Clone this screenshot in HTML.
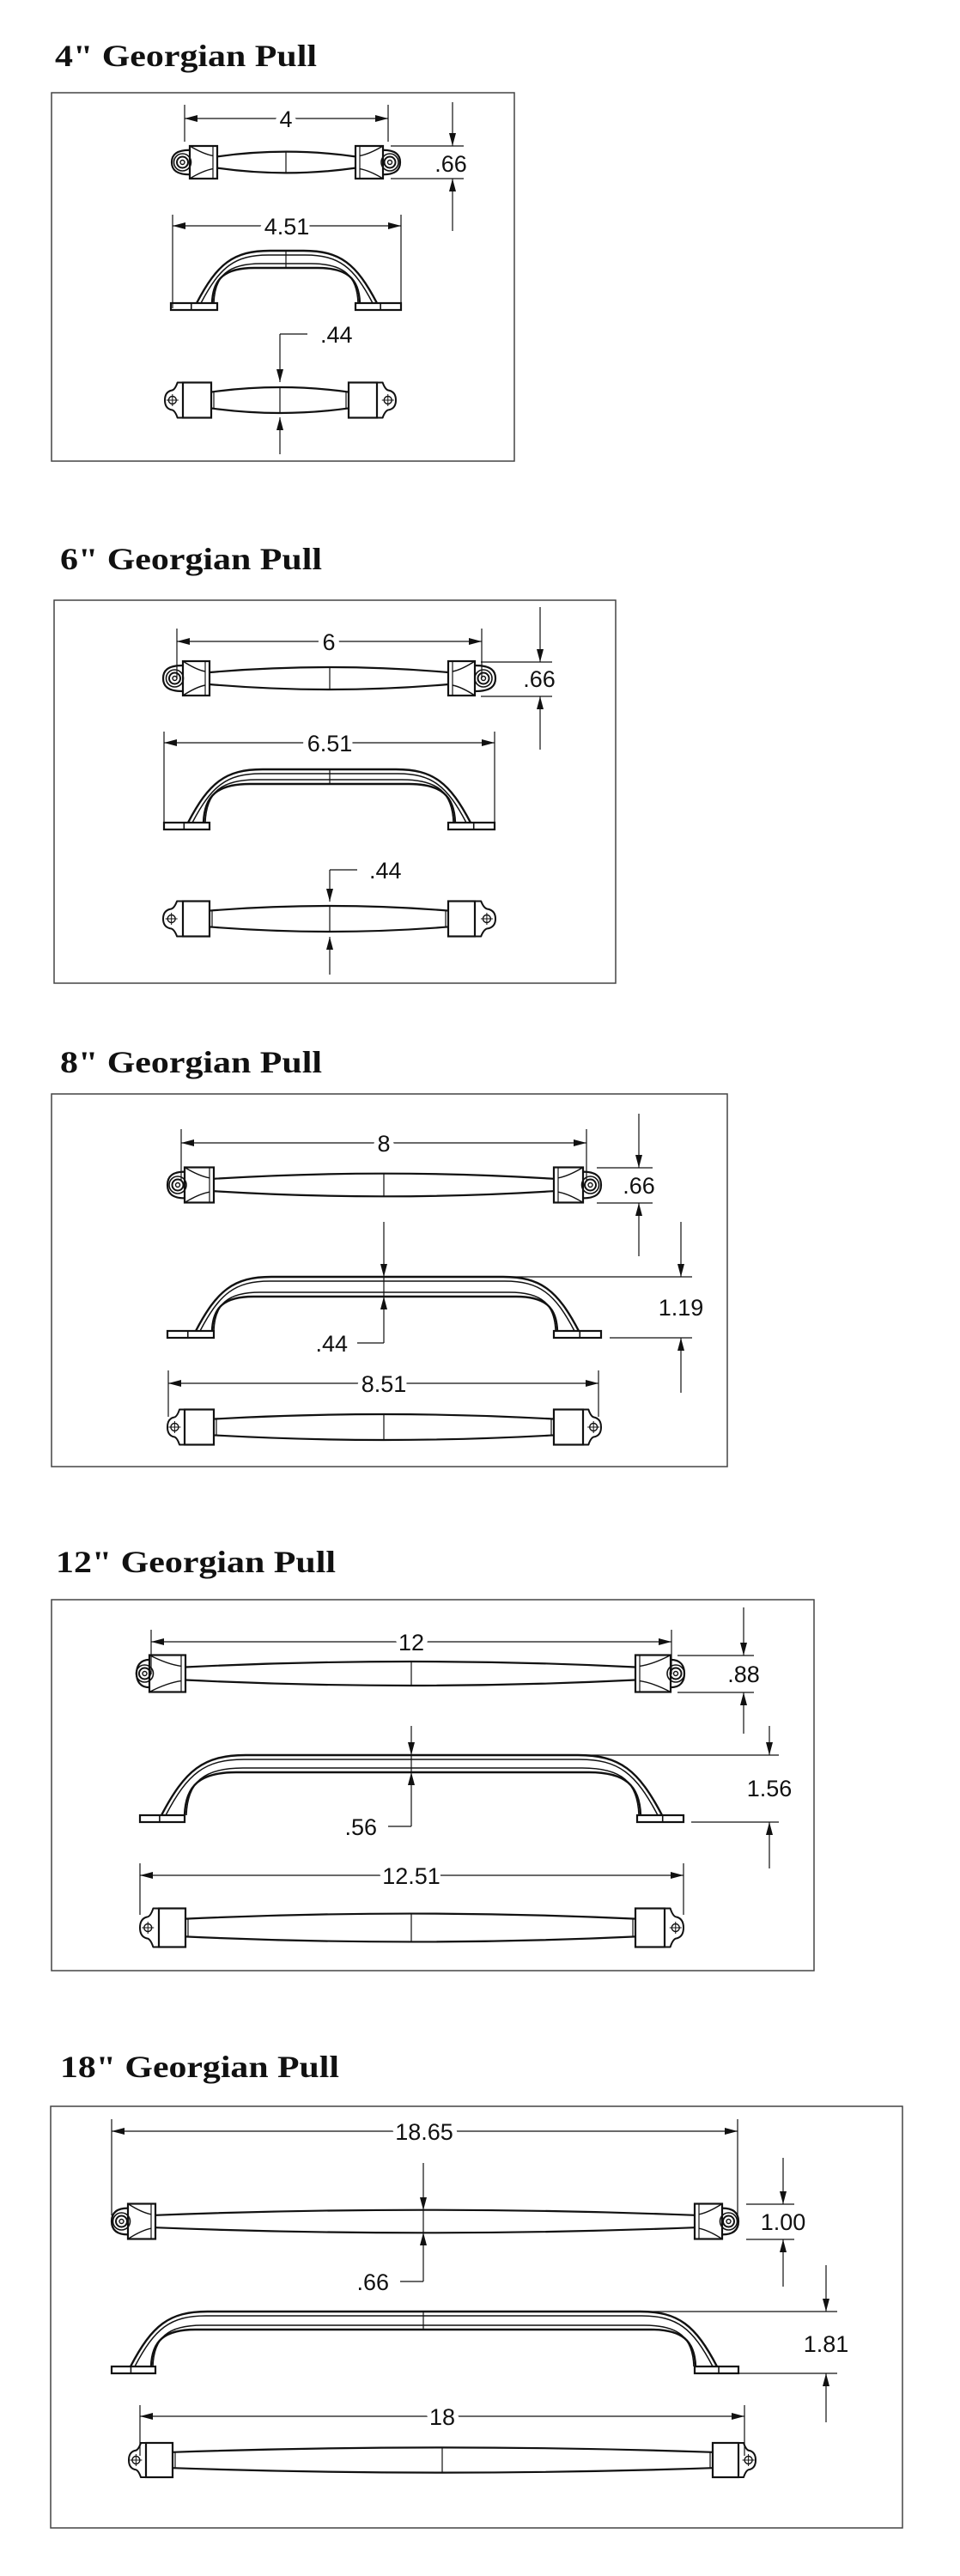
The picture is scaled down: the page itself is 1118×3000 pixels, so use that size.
<!DOCTYPE html>
<html><head><meta charset="utf-8"><style>
html,body{margin:0;padding:0;background:#fff;}
svg{display:block}
.t{font-family:"Liberation Serif",serif;font-weight:bold;font-size:36px;fill:#111}
.d{font-family:"Liberation Sans",sans-serif;font-size:27px;fill:#111;paint-order:stroke;stroke:#fff;stroke-width:12px;stroke-linejoin:round}
</style></head><body>
<svg id="s" width="1118" height="3000" viewBox="0 0 1118 3000" xmlns="http://www.w3.org/2000/svg">
<rect width="1118" height="3000" fill="#fff"/>
<g fill="none" stroke="#444" stroke-width="1.5">
<rect x="60" y="108" width="539" height="429"/>
<rect x="63" y="699" width="654" height="446"/>
<rect x="60" y="1274" width="787" height="434"/>
<rect x="60" y="1863" width="888" height="432"/>
<rect x="59" y="2453" width="992" height="491"/>
</g>
<g id="g"></g>
<text class="t" x="64" y="77" textLength="305" lengthAdjust="spacingAndGlyphs">4" Georgian Pull</text>
<text class="t" x="70" y="663" textLength="305" lengthAdjust="spacingAndGlyphs">6" Georgian Pull</text>
<text class="t" x="70" y="1249" textLength="305" lengthAdjust="spacingAndGlyphs">8" Georgian Pull</text>
<text class="t" x="65" y="1831" textLength="326" lengthAdjust="spacingAndGlyphs">12" Georgian Pull</text>
<text class="t" x="70" y="2419" textLength="325" lengthAdjust="spacingAndGlyphs">18" Georgian Pull</text>

<text class="d" x="333" y="148" text-anchor="middle">4</text>
<text class="d" x="525" y="200" text-anchor="middle">.66</text>
<text class="d" x="334" y="273" text-anchor="middle">4.51</text>
<text class="d" x="373" y="399">.44</text>

<text class="d" x="383" y="757" text-anchor="middle">6</text>
<text class="d" x="628" y="800" text-anchor="middle">.66</text>
<text class="d" x="384" y="875" text-anchor="middle">6.51</text>
<text class="d" x="430" y="1023">.44</text>

<text class="d" x="447" y="1341" text-anchor="middle">8</text>
<text class="d" x="744" y="1390" text-anchor="middle">.66</text>
<text class="d" x="405" y="1574" text-anchor="end">.44</text>
<text class="d" x="793" y="1532" text-anchor="middle">1.19</text>
<text class="d" x="447" y="1621" text-anchor="middle">8.51</text>

<text class="d" x="479" y="1922" text-anchor="middle">12</text>
<text class="d" x="866" y="1959" text-anchor="middle">.88</text>
<text class="d" x="439" y="2137" text-anchor="end">.56</text>
<text class="d" x="896" y="2092" text-anchor="middle">1.56</text>
<text class="d" x="479" y="2194" text-anchor="middle">12.51</text>

<text class="d" x="494" y="2492" text-anchor="middle">18.65</text>
<text class="d" x="453" y="2667" text-anchor="end">.66</text>
<text class="d" x="912" y="2597" text-anchor="middle">1.00</text>
<text class="d" x="962" y="2739" text-anchor="middle">1.81</text>
<text class="d" x="515" y="2824" text-anchor="middle">18</text>
</svg>
<script>
(function(){
var ns="http://www.w3.org/2000/svg",G=document.getElementById('g');
function el(t,a){var e=document.createElementNS(ns,t);for(var k in a)e.setAttribute(k,a[k]);G.appendChild(e);return e;}
function L(x1,y1,x2,y2,w){el('line',{x1:x1,y1:y1,x2:x2,y2:y2,stroke:'#111','stroke-width':w||1.2});}
function P(d,w){el('path',{d:d,fill:'none',stroke:'#111','stroke-width':w||2.2,'stroke-linejoin':'round'});}
function R(x,y,w,h){el('rect',{x:x,y:y,width:w,height:h,fill:'none',stroke:'#111','stroke-width':2.2});}
function C(x,y,r,w){el('circle',{cx:x,cy:y,r:r,fill:'none',stroke:'#111','stroke-width':w||1.6});}
function tri(x,y,dx,dy){var l=15,hw=4;var bx=x-dx*l,by=y-dy*l;
 el('polygon',{points:x+','+y+' '+(bx-dy*hw)+','+(by+dx*hw)+' '+(bx+dy*hw)+','+(by-dx*hw),fill:'#111'});}
function dimH(x1,x2,y){L(x1,y,x2,y);tri(x1,y,-1,0);tri(x2,y,1,0);}
function va(x,y0,yt){L(x,y0,x,yt);tri(x,yt,0,yt>y0?1:-1);}
function topView(cx,cy,xL,b1,b2,b3,b4,xR,h){
 P('M'+b2+','+(cy-.35*h)+' Q'+cx+','+(cy-.95*h)+' '+b3+','+(cy-.35*h));
 P('M'+b2+','+(cy+.35*h)+' Q'+cx+','+(cy+.95*h)+' '+b3+','+(cy+.35*h));
 L(cx,cy-.63*h,cx,cy+.63*h,1.2);
 R(b1,cy-h,b2-b1,2*h);R(b3,cy-h,b4-b3,2*h);
 [[b1,b2,1],[b4,b3,-1]].forEach(function(q){var a=q[0],b=q[1],s=q[2],w=Math.abs(b-a);
  P('M'+a+','+(cy-h)+' Q'+(a+s*w*.5)+','+(cy-h*.5)+' '+(b-s*5)+','+(cy-h*.4),1.4);
  P('M'+a+','+(cy+h)+' Q'+(a+s*w*.5)+','+(cy+h*.5)+' '+(b-s*5)+','+(cy+h*.4),1.4);
  L(b-s*5,cy-h,b-s*5,cy+h,1.2);});
 [[xL,b1],[xR,b4]].forEach(function(q){var e=q[0],b=q[1],cxx=(e+b)/2,s=e<b?1:-1;
  P('M'+b+','+(cy-h*.75)+' C'+(e+s*4)+','+(cy-h*.75)+' '+e+','+(cy-h*.4)+' '+e+','+cy+' C'+e+','+(cy+h*.4)+' '+(e+s*4)+','+(cy+h*.75)+' '+b+','+(cy+h*.75));
  C(cxx+s*2,cy,10,1.6);C(cxx+s*2,cy,6.5,2);C(cxx+s*2,cy,2.5,1.4);});
}
function botView(cx,cy,xL,b1,b2,b3,b4,xR,h){
 P('M'+b2+','+(cy-.46*h)+' Q'+cx+','+(cy-1.0*h)+' '+b3+','+(cy-.46*h));
 P('M'+b2+','+(cy+.46*h)+' Q'+cx+','+(cy+1.0*h)+' '+b3+','+(cy+.46*h));
 L(cx,cy-.72*h,cx,cy+.72*h,1.2);
 L(b2+3,cy-.5*h,b2+3,cy+.5*h,1.2);L(b3-3,cy-.5*h,b3-3,cy+.5*h,1.2);
 R(b1,cy-h,b2-b1,2*h);R(b3,cy-h,b4-b3,2*h);
 [[xL,b1],[xR,b4]].forEach(function(q){var e=q[0],b=q[1],s=e<b?1:-1,d=Math.abs(b-e);
  P('M'+b+','+(cy-h)+' L'+(b-s*d*.3)+','+(cy-h)+' Q'+(b-s*d*.45)+','+(cy-h*.55)+' '+(e+s*d*.35)+','+(cy-h*.55)+' Q'+e+','+(cy-h*.45)+' '+e+','+cy+' Q'+e+','+(cy+h*.45)+' '+(e+s*d*.35)+','+(cy+h*.55)+' Q'+(b-s*d*.45)+','+(cy+h*.55)+' '+(b-s*d*.3)+','+(cy+h)+' L'+b+','+(cy+h),2);
  var px=e+s*d*.42;C(px,cy,4.5,1.4);L(px-7,cy,px+7,cy,1);L(px,cy-7,px,cy+7,1);});
}
function sideView(cx,yt,yf,f1,f2,f3,f4,o1,i1,o4,i4,yi){
 var ft=yf-8;R(f1,ft,f2-f1,8);R(f3,ft,f4-f3,8);
 L(f1+(f2-f1)*.44,ft,f1+(f2-f1)*.44,yf,1.6);L(f3+(f4-f3)*.55,ft,f3+(f4-f3)*.55,yf,1.6);
 function arch(a,b,y,w){var H=ft-y,k=Math.min(1.4*H,.85*(cx-a));
  P('M'+a+','+ft+' C'+(a+.28*k)+','+(ft-.75*H)+' '+(a+.5*k)+','+y+' '+(a+k)+','+y+' L'+(b-k)+','+y+' C'+(b-.5*k)+','+y+' '+(b-.28*k)+','+(ft-.75*H)+' '+b+','+ft,w);}
 function inner(a,b,y,w){var H=ft-y,k=Math.min(1.2*H,.85*(cx-a));
  P('M'+a+','+ft+' C'+(a+.02*k)+','+(ft-.7*H)+' '+(a+.3*k)+','+y+' '+(a+k)+','+y+' L'+(b-k)+','+y+' C'+(b-.3*k)+','+y+' '+(b-.02*k)+','+(ft-.7*H)+' '+b+','+ft,w);}
 arch(o1,o4,yt,2.4);arch(o1+5,o4-5,yt+5,1.5);
 inner(i1,i4,yi,2.4);inner(i1+2,i4-2,yi-5,1.5);
 L(cx,yt,cx,yi,1.2);
}
/* S1 */
dimH(215,452,138);L(215,122,215,165);L(452,122,452,165);
topView(333,189,200,221,253,414,446,466,19);
L(455,170,540,170);L(455,208,540,208);va(527,119,170);va(527,269,208);
dimH(201,467,263);L(201,250,201,359);L(467,250,467,359);
sideView(333,292,361,199,253,414,467,229,247,439,419,312);
L(326,389,358,389);va(326,389,445);va(326,529,486);
botView(326,466,192,213,246,406,439,461,20.5);
/* S2 */
dimH(206,561,747);L(206,732,206,790);L(561,732,561,790);
topView(384,790,190,213,244,522,553,577,20);
L(560,771,643,771);L(560,811,643,811);va(629,707,771);va(629,873,811);
dimH(191,576,865);L(191,852,191,966);L(576,852,576,966);
sideView(384,896,966,191,244,522,576,219,237,548,530,913);
L(384,1013,416,1013);va(384,1013,1050);va(384,1135,1091);
botView(384,1070,190,213,244,522,553,577,20.5);
/* S3 */
dimH(211,683,1331);L(211,1315,211,1375);L(683,1315,683,1375);
topView(447,1380,195,215,249,645,679,700,20.5);
L(695,1360,760,1360);L(695,1401,760,1401);va(744,1297,1360);va(744,1463,1401);
sideView(447,1487,1558,195,249,645,700,228,247,674,649,1510);
va(447,1423,1487);va(447,1564,1510);L(447,1564,416,1564);
L(447,1487,806,1487);L(710,1558,806,1558);va(793,1423,1487);va(793,1622,1558);
dimH(196,697,1611);L(196,1596,196,1650);L(697,1596,697,1650);
botView(447,1662,195,215,249,645,679,700,20.5);
/* S4 */
dimH(176,782,1912);L(176,1898,176,1950);L(782,1898,782,1950);
topView(479,1949,159,174,216,740,781,797,21.5);
L(789,1928,878,1928);L(789,1971,878,1971);va(866,1872,1928);va(866,2019,1971);
sideView(479,2044,2122,163,215,742,796,188,215,771,746,2064);
va(479,2010,2044);va(479,2127,2064);L(479,2127,452,2127);
L(479,2044,907,2044);L(805,2122,907,2122);va(896,2010,2044);va(896,2176,2122);
dimH(163,796,2184);L(163,2170,163,2230);L(796,2170,796,2230);
botView(479,2245,163,185,216,740,774,796,22.5);
/* S5 */
dimH(130,859,2482);L(130,2468,130,2580);L(859,2468,859,2580);
topView(493,2587,130,149,181,809,841,860,20.5);
va(493,2519,2574);va(493,2657,2600);L(493,2657,466,2657);
L(869,2567,925,2567);L(869,2608,925,2608);va(912,2513,2567);va(912,2663,2608);
sideView(493,2692,2764,130,181,809,860,152,176,835,810,2713);
L(493,2692,975,2692);L(860,2764,975,2764);va(962,2638,2692);va(962,2821,2764);
dimH(163,867,2814);L(163,2801,163,2860);L(867,2801,867,2860);
botView(515,2865,150,170,201,830,860,880,20);
})();
</script>
</body></html>
